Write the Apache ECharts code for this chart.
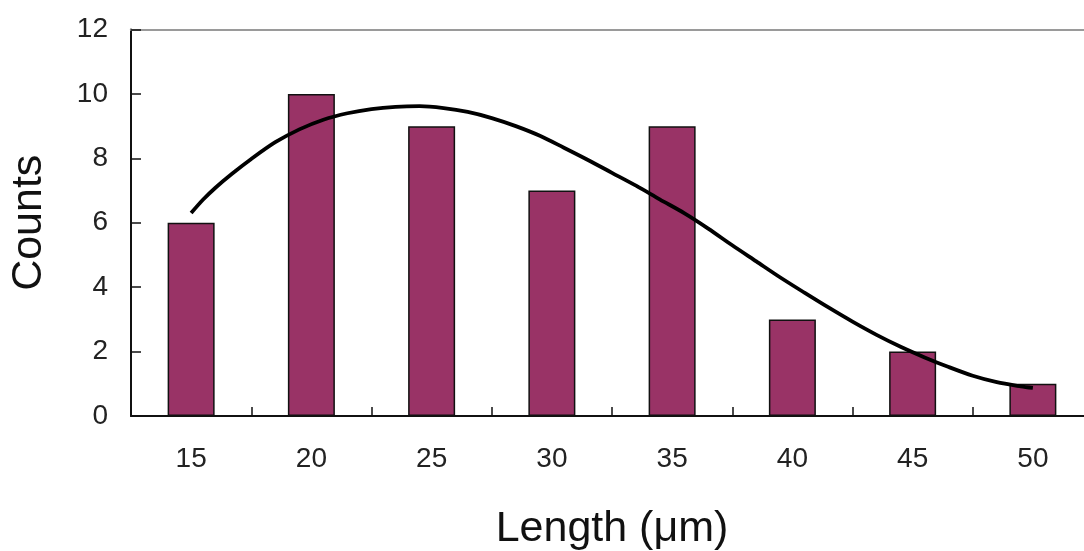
<!DOCTYPE html>
<html>
<head>
<meta charset="utf-8">
<script src="https://cdn.jsdelivr.net/npm/echarts@6/dist/echarts.min.js"></script>
<style>
html,body{margin:0;padding:0;background:#fff;overflow:hidden;}
#chart{width:1084px;height:551px;}
</style>
</head>
<body>
<div id="chart"></div>
<script>
const categories = ['15','20','25','30','35','40','45','50'];
const counts = [6, 10, 9, 7, 9, 3, 2, 1];
const yTicks = [0, 2, 4, 6, 8, 10, 12];
const curveX = [15.0, 15.5, 16.0, 16.7, 17.5, 18.5, 19.5, 20.5, 21.5, 22.5, 23.5, 24.5, 25.5, 26.5, 27.5, 28.5, 29.5, 30.5, 31.5, 32.5, 33.5, 34.5, 35.5, 36.5, 37.5, 38.5, 39.5, 40.5, 41.5, 42.5, 43.5, 44.5, 45.5, 46.5, 47.5, 48.5, 49.5, 50.0];
const curveY = [6.3, 6.72, 7.08, 7.52, 7.98, 8.5, 8.9, 9.2, 9.4, 9.53, 9.6, 9.62, 9.56, 9.44, 9.25, 9.0, 8.7, 8.33, 7.95, 7.55, 7.15, 6.72, 6.3, 5.82, 5.3, 4.8, 4.3, 3.83, 3.37, 2.93, 2.52, 2.15, 1.82, 1.52, 1.25, 1.05, 0.92, 0.87];

const FONT = '"Liberation Sans", Arial, sans-serif';
const chart = echarts.init(document.getElementById('chart'));
chart.setOption({
  animation: false,
  backgroundColor: '#fff',
  grid: { left: 131, width: 962, top: 29.5, bottom: 135, containLabel: false, outerBoundsMode: 'none' },
  xAxis: [
    {
      type: 'category', data: categories, position: 'bottom', boundaryGap: true,
      name: 'Length (\u03bcm)', nameLocation: 'middle', nameGap: 92,
      nameTextStyle: { fontFamily: FONT, fontSize: 43, color: '#111' },
      axisLine: { lineStyle: { color: '#111', width: 2 } },
      axisTick: { show: true, inside: true, length: 9, alignWithLabel: false, lineStyle: { color: '#111', width: 1.5 } },
      axisLabel: { fontFamily: FONT, fontSize: 28, color: '#222', margin: 29 },
      splitLine: { show: false }
    },
    {
      type: 'value', min: 12.5, max: 52.5, show: false
    },
    {
      type: 'category', data: categories, position: 'top',
      axisLine: { show: true, lineStyle: { color: '#9a9a9a', width: 2 } },
      axisTick: { show: false }, axisLabel: { show: false }, splitLine: { show: false }
    }
  ],
  yAxis: {
    type: 'value', min: 0, max: 12, interval: 2,
    name: 'Counts', nameLocation: 'middle', nameGap: 80, nameRotate: 90,
    nameTextStyle: { fontFamily: FONT, fontSize: 43, color: '#111' },
    axisLine: { show: true, lineStyle: { color: '#111', width: 2 } },
    axisTick: { show: true, inside: true, length: 10, lineStyle: { color: '#111', width: 1.5 } },
    axisLabel: { fontFamily: FONT, fontSize: 28, color: '#222', margin: 23,
      formatter: v => yTicks.includes(v) ? String(v) : '' },
    splitLine: { show: false }
  },
  series: [
    {
      type: 'bar', xAxisIndex: 0, data: counts, barWidth: 47,
      itemStyle: { color: '#993366', borderColor: '#111', borderWidth: 1.5 }
    },
    {
      type: 'line', xAxisIndex: 1, data: curveX.map((x, i) => [x, curveY[i]]),
      smooth: 0.3, showSymbol: false, symbol: 'none',
      lineStyle: { color: '#000', width: 3.8 }, z: 5
    }
  ]
});
</script>
</body>
</html>
